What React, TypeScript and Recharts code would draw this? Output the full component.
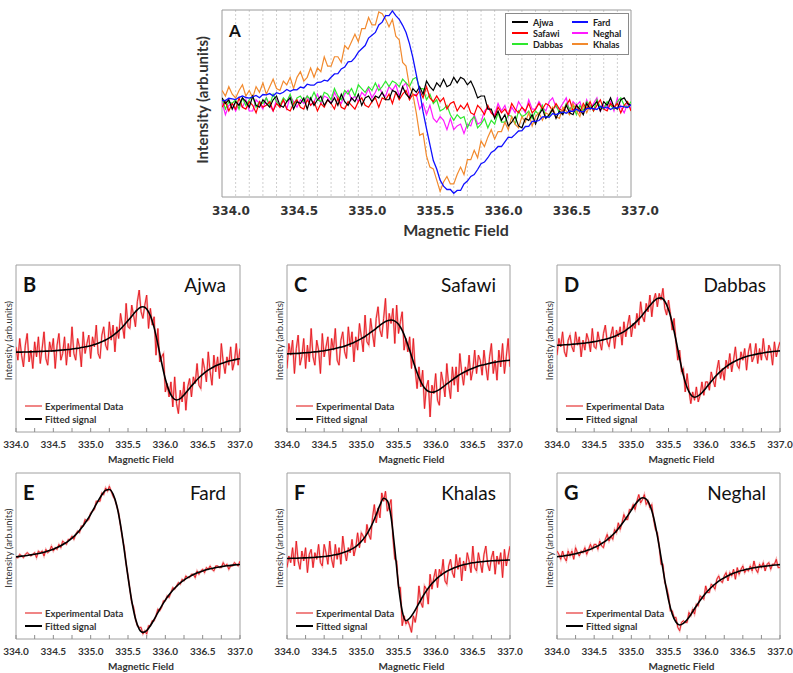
import { LineChart, Line, XAxis, YAxis, CartesianGrid, ReferenceArea, Legend } from 'recharts'

// magnetic field grids shared by every panel
const fieldFine = [
  334, 334.025, 334.05, 334.075, 334.1, 334.125, 334.15, 334.175, 334.2, 334.225,
  334.25, 334.275, 334.3, 334.325, 334.35, 334.375, 334.4, 334.425, 334.45, 334.475,
  334.5, 334.525, 334.55, 334.575, 334.6, 334.625, 334.65, 334.675, 334.7, 334.725,
  334.75, 334.775, 334.8, 334.825, 334.85, 334.875, 334.9, 334.925, 334.95, 334.975,
  335, 335.025, 335.05, 335.075, 335.1, 335.125, 335.15, 335.175, 335.2, 335.225,
  335.25, 335.275, 335.3, 335.325, 335.35, 335.375, 335.4, 335.425, 335.45, 335.475,
  335.5, 335.525, 335.55, 335.575, 335.6, 335.625, 335.65, 335.675, 335.7, 335.725,
  335.75, 335.775, 335.8, 335.825, 335.85, 335.875, 335.9, 335.925, 335.95, 335.975,
  336, 336.025, 336.05, 336.075, 336.1, 336.125, 336.15, 336.175, 336.2, 336.225,
  336.25, 336.275, 336.3, 336.325, 336.35, 336.375, 336.4, 336.425, 336.45, 336.475,
  336.5, 336.525, 336.55, 336.575, 336.6, 336.625, 336.65, 336.675, 336.7, 336.725,
  336.75, 336.775, 336.8, 336.825, 336.85, 336.875, 336.9, 336.925, 336.95, 336.975,
  337,
]
const fieldFit = [
  334, 334.05, 334.1, 334.15, 334.2, 334.25, 334.3, 334.35, 334.4, 334.45,
  334.5, 334.55, 334.6, 334.65, 334.7, 334.75, 334.8, 334.85, 334.9, 334.95,
  335, 335.05, 335.1, 335.15, 335.2, 335.25, 335.3, 335.35, 335.4, 335.45,
  335.5, 335.55, 335.6, 335.65, 335.7, 335.75, 335.8, 335.85, 335.9, 335.95,
  336, 336.05, 336.1, 336.15, 336.2, 336.25, 336.3, 336.35, 336.4, 336.45,
  336.5, 336.55, 336.6, 336.65, 336.7, 336.75, 336.8, 336.85, 336.9, 336.95,
  337,
]

const ticksA = [334, 334.5, 335, 335.5, 336, 336.5, 337]
const gridA = [
  334.1, 334.2, 334.3, 334.4, 334.5, 334.6, 334.7, 334.8, 334.9, 335,
  335.1, 335.2, 335.3, 335.4, 335.5, 335.6, 335.7, 335.8, 335.9, 336,
  336.1, 336.2, 336.3, 336.4, 336.5, 336.6, 336.7, 336.8, 336.9,
]
const ticksSmall = [334, 334.25, 334.5, 334.75, 335, 335.25, 335.5, 335.75, 336, 336.25, 336.5, 336.75, 337]

// panel A: raw spectra (arb. units, 0..100 of the frame height)
const ajwaA = [
  53, 50, 52, 47, 51, 49, 53, 51, 48, 54, 49, 48, 52, 50, 48, 52, 54, 49, 48, 51,
  53, 47, 51, 50, 53, 47, 53, 49, 52, 54, 49, 52, 50, 53, 49, 55, 51, 49, 53, 51,
  55, 49, 53, 54, 51, 54, 53, 56, 52, 52, 57, 56, 53, 59, 55, 53, 58, 56, 59, 55,
  62, 59, 57, 61, 59, 63, 59, 60, 64, 61, 64, 63, 60, 62, 58, 53, 54, 54, 47, 47, 42,
  46, 41, 44, 38, 40, 43, 38, 37, 42, 41, 44, 39, 44, 47, 42, 44, 47, 42, 46, 44,
  49, 45, 44, 49, 47, 44, 50, 47, 49, 51, 46, 51, 49, 53, 48, 47, 52, 53, 50, 49,
]
const safawiA = [
  48, 51, 46, 50, 47, 53, 48, 47, 51, 49, 45, 51, 48, 49, 51, 46, 50, 48, 52, 47,
  46, 50, 52, 48, 47, 52, 49, 51, 46, 50, 48, 52, 50, 47, 53, 48, 47, 51, 49, 47,
  51, 53, 49, 48, 51, 53, 48, 53, 52, 55, 50, 56, 52, 55, 57, 52, 55, 54, 57, 53,
  59, 53, 51, 54, 51, 53, 47, 50, 51, 46, 49, 47, 50, 45, 44, 49, 47, 44, 49, 45,
  43, 48, 45, 47, 44, 50, 47, 45, 48, 46, 50, 45, 47, 50, 47, 50, 49, 46, 50, 47,
  46, 49, 52, 46, 49, 45, 50, 47, 51, 46, 49, 52, 47, 46, 50, 48, 50, 45, 49, 51, 46,
]
const dabbasA = [
  53, 47, 51, 50, 52, 47, 53, 49, 52, 54, 48, 51, 50, 53, 49, 55, 51, 49, 53, 51,
  55, 49, 53, 54, 51, 54, 52, 56, 52, 51, 56, 55, 52, 58, 54, 52, 57, 55, 58, 54,
  60, 58, 56, 59, 57, 61, 57, 59, 62, 59, 62, 61, 59, 63, 61, 59, 63, 64, 58, 58, 52,
  55, 50, 52, 46, 47, 49, 44, 41, 44, 42, 43, 37, 41, 43, 37, 39, 42, 37, 41, 39,
  45, 40, 40, 44, 43, 39, 46, 43, 44, 46, 42, 46, 44, 49, 43, 43, 47, 49, 45, 45,
  50, 47, 49, 44, 49, 46, 51, 49, 46, 52, 48, 47, 51, 49, 47, 51, 53, 49, 48, 51,
]
const fardA = [
  51.5, 51.6, 52.8, 52.5, 52.1, 53.3, 54, 53.2, 52.9, 53.6, 54.3, 53.1, 54.8, 54.6, 55.3, 54.1, 55.8, 55.2, 56, 57.5,
  56.5, 57.4, 57.3, 58.8, 58.3, 60.3, 59.8, 59.8, 61.3, 61.4, 62.5, 62, 64, 65.8, 66, 68.5, 69.5, 72.3, 72.5, 74.5,
  77.5, 79.3, 81, 85, 86.5, 88, 92, 93.5, 97, 97, 99.5, 97, 95, 91.8, 88, 82, 74.5, 65.5, 56.5, 45.5, 36.5,
  28, 19.5, 15, 9, 5.8, 4, 4, 2, 3.5, 3.5, 7, 8.5, 11, 12, 14.7, 17.8, 18.7, 21, 23.8, 25,
  27, 27, 29.5, 32, 31.8, 33.5, 35.3, 35.5, 37.7, 37.8, 40.4, 40.5, 40.9, 42.8, 43, 42.6, 44.6, 44, 44.8, 45.5,
  44.8, 46, 45.8, 47, 45.8, 45.5, 47.3, 47.5, 47.2, 46.8, 48.5, 47.6, 48.2, 46.8, 47.9, 47.5, 48.6, 48.2, 47.8, 49.3,
]
const neghalA = [
  51, 44, 49, 50, 46, 50, 48, 52, 46, 46, 52, 50, 47, 53, 49, 46, 52, 48, 52, 47,
  54, 51, 48, 52, 50, 54, 49, 51, 55, 50, 54, 53, 50, 56, 52, 50, 55, 57, 52, 54, 51,
  56, 54, 58, 53, 56, 60, 55, 54, 59, 57, 60, 54, 59, 61, 54, 54, 55, 47, 50, 44,
  49, 42, 40, 43, 41, 36, 42, 36, 38, 39, 34, 39, 38, 44, 39, 40, 46, 48, 45, 44,
  50, 46, 49, 43, 48, 45, 51, 48, 45, 52, 47, 47, 51, 48, 46, 51, 53, 48, 47, 50,
  53, 46, 51, 49, 51, 45, 52, 47, 50, 53, 46, 49, 47, 51, 46, 53, 48, 45, 50, 47,
]
const khalasA = [
  57, 54, 59, 55, 53, 57, 60, 54, 57, 53, 59, 56, 61, 55, 59, 63, 58, 57, 62, 60,
  64, 58, 64, 67, 62, 64, 69, 64, 69, 67, 75, 70, 70, 75, 75, 72, 81, 79, 83, 87,
  83, 90, 90, 96, 92, 92, 99, 98, 95, 91, 95, 86, 84, 72, 70, 59, 55, 45, 33, 34,
  22, 16, 15, 9, 3, 8, 11, 7, 7, 12, 16, 12, 20, 20, 25, 21, 30, 27, 32, 36,
  31, 35, 35, 40, 36, 43, 39, 37, 43, 40, 45, 38, 43, 45, 41, 45, 44, 48, 43, 42,
  48, 46, 44, 50, 46, 43, 49, 45, 49,
]

// panels B-G: experimental data and fitted signal
const ajwaExp = [
  51, 43, 56, 46, 39, 52, 59, 42, 49, 38, 54, 45, 57, 41, 50, 60, 44, 40, 54, 48,
  56, 38, 52, 59, 43, 47, 57, 40, 53, 45, 63, 47, 43, 56, 51, 39, 60, 47, 53, 58,
  44, 57, 51, 64, 47, 44, 58, 63, 52, 49, 66, 55, 64, 48, 63, 56, 71, 64, 56, 77,
  63, 62, 76, 70, 63, 78, 85, 72, 68, 76, 82, 62, 74, 64, 69, 46, 62, 42, 45, 47,
  24, 29, 21, 30, 15, 33, 17, 11, 25, 18, 30, 13, 27, 32, 21, 33, 29, 41, 28, 26,
  44, 38, 30, 48, 36, 28, 46, 36, 45, 32, 53, 42, 35, 45, 40, 51, 37, 42, 53, 40, 50,
]
const ajwaFit = [
  47.8, 47.8, 47.9, 47.9, 48, 48.1, 48.2, 48.3, 48.4, 48.5, 48.6, 48.8, 49, 49.2, 49.4, 49.7, 50, 50.3, 50.7, 51.2,
  51.7, 52.4, 53.2, 54.1, 55.1, 56.4, 57.9, 59.7, 61.7, 64.1, 66.7, 69.3, 72, 74.2, 75, 73.7, 69.6, 62.5, 52.6, 41.6,
  31.7, 24.6, 20.5, 19.2, 20, 22.2, 24.9, 27.5, 30.1, 32.5, 34.5, 36.3, 37.8, 39.1, 40.1, 41, 41.8, 42.5, 43, 43.5, 43.9,
]
const safawiExp = [
  38, 53, 46, 55, 35, 50, 58, 40, 45, 56, 38, 52, 42, 62, 45, 40, 55, 49, 35, 59,
  45, 51, 57, 40, 56, 49, 62, 43, 40, 55, 60, 48, 44, 63, 51, 60, 42, 57, 49, 65,
  57, 48, 70, 54, 52, 68, 59, 51, 68, 75, 61, 57, 68, 80, 56, 71, 65, 74, 53, 76,
  59, 66, 72, 49, 56, 48, 57, 38, 56, 37, 26, 39, 27, 37, 14, 27, 31, 9, 28, 23,
  35, 19, 16, 36, 30, 21, 41, 28, 20, 39, 28, 39, 24, 47, 36, 28, 39, 34, 46, 31,
  37, 49, 35, 46, 43, 34, 49, 39, 31, 45, 53, 35, 43, 31, 49, 39, 53, 35, 45, 56, 39,
]
const safawiFit = [
  46.8, 46.9, 47, 47.1, 47.3, 47.5, 47.6, 47.9, 48.1, 48.4, 48.7, 49.1, 49.5, 50, 50.6, 51.1, 51.8, 52.7, 53.6, 54.7,
  55.9, 57.2, 58.8, 60.4, 62.1, 63.9, 65.5, 66.6, 67.1, 66.4, 64.5, 60.8, 55.4, 48.9, 42, 35.5, 30.1, 26.4, 24.4, 23.8,
  24.3, 25.4, 27, 28.8, 30.5, 32.1, 33.7, 35, 36.2, 37.3, 38.2, 39.1, 39.8, 40.3, 40.9, 41.4, 41.8, 42.2, 42.5, 42.8, 43,
]
const dabbasExp = [
  46, 56, 51, 60, 48, 45, 55, 58, 51, 48, 60, 52, 57, 45, 55, 49, 59, 55, 48, 62,
  51, 50, 60, 54, 49, 59, 64, 54, 51, 58, 63, 50, 61, 57, 63, 52, 66, 57, 64, 70,
  57, 65, 62, 71, 64, 78, 69, 66, 77, 72, 82, 69, 79, 83, 75, 83, 79, 86, 74, 70,
  79, 71, 61, 68, 54, 43, 49, 36, 38, 24, 35, 25, 17, 24, 19, 27, 18, 22, 30, 22, 30,
  30, 25, 36, 31, 27, 37, 43, 32, 38, 31, 43, 38, 47, 36, 43, 51, 40, 38, 48, 43,
  50, 37, 48, 53, 42, 45, 53, 41, 50, 43, 56, 46, 43, 52, 49, 40, 54, 45, 50, 54,
]
const dabbasFit = [
  51.9, 52, 52.2, 52.3, 52.5, 52.7, 52.9, 53.1, 53.4, 53.7, 54.1, 54.5, 55, 55.5, 56.1, 56.9, 57.8, 58.9, 60.1, 61.7,
  63.4, 65.3, 67.6, 70.1, 72.9, 75.7, 78.2, 79.9, 80.3, 78.3, 73.4, 65.4, 55.1, 43.9, 33.9, 26.6, 22.3, 20.8, 21.6, 23.5,
  26.1, 28.9, 31.6, 34.1, 36.3, 38.2, 39.9, 41.3, 42.5, 43.5, 44.4, 45.2, 45.8, 46.3, 46.8, 47.2, 47.6, 47.9, 48.2, 48.4, 48.6,
]
const fardExp = [
  49, 49, 51, 50, 49, 51, 52, 51, 50, 51, 52, 49, 53, 52, 53, 50, 54, 52, 53, 56,
  53, 55, 54, 57, 55, 59, 58, 57, 60, 60, 62, 60, 63, 65, 64, 68, 68, 72, 71, 72,
  76, 77, 78, 83, 83, 83, 88, 87, 91, 89, 92, 89, 86, 84, 80, 76, 68, 61, 55, 45, 38,
  30, 22, 19, 12, 8, 7, 7, 3, 5, 3, 8, 8, 11, 11, 14, 18, 17, 19, 23, 23,
  26, 25, 28, 31, 30, 32, 34, 33, 36, 35, 38, 37, 37, 39, 39, 37, 41, 39, 41, 42,
  40, 43, 42, 44, 42, 41, 44, 44, 43, 43, 46, 44, 45, 42, 44, 44, 46, 45, 44, 47,
]
const fardFit = [
  49.5, 49.8, 50, 50.3, 50.7, 51.1, 51.5, 52, 52.6, 53.3, 54.1, 55.1, 56.2, 57.5, 59, 60.8, 62.9, 65.4, 68.2, 71.5,
  75.1, 79.2, 83.2, 86.9, 89.6, 90.1, 87.3, 80.3, 68.7, 53.6, 37.4, 22.9, 12.2, 6, 4, 5.1, 8, 11.8, 15.9, 19.8,
  23.4, 26.6, 29.4, 31.7, 33.8, 35.5, 37, 38.2, 39.3, 40.2, 41, 41.7, 42.3, 42.8, 43.2, 43.6, 44, 44.2, 44.5, 44.7, 44.9,
]
const khalasExp = [
  43, 50, 46, 55, 44, 59, 47, 42, 53, 47, 55, 40, 51, 54, 43, 52, 48, 57, 46, 44,
  57, 52, 45, 59, 48, 43, 57, 48, 55, 45, 62, 53, 47, 55, 52, 60, 50, 55, 64, 55, 64,
  62, 58, 69, 63, 60, 73, 81, 70, 79, 73, 88, 83, 89, 77, 80, 84, 61, 48, 47, 31,
  31, 8, 14, 9, 11, 8, 4, 14, 10, 17, 32, 22, 19, 32, 30, 21, 39, 30, 37, 42,
  31, 42, 38, 48, 35, 33, 44, 48, 40, 37, 51, 42, 49, 35, 47, 41, 52, 47, 40, 56,
  43, 41, 52, 46, 40, 51, 56, 45, 41, 49, 53, 39, 50, 45, 52, 37, 54, 44, 50, 56,
]
const khalasFit = [
  48.5, 48.6, 48.6, 48.7, 48.8, 48.9, 49, 49.1, 49.3, 49.5, 49.7, 50, 50.3, 50.7, 51.2, 51.9, 52.7, 53.7, 54.9, 56.6,
  58.8, 61.5, 65.1, 69.6, 74.9, 80.6, 84.8, 83.3, 73.6, 54.3, 32.2, 16.8, 11, 12.5, 15.6, 19.5, 23.5, 27.3, 30.6, 33.4,
  35.8, 37.8, 39.4, 40.8, 41.9, 42.9, 43.7, 44.4, 45, 45.5, 45.9, 46.2, 46.5, 46.7, 46.9, 47.1, 47.2, 47.3, 47.4, 47.5, 47.6,
]
const neghalExp = [
  53, 51, 48, 53, 49, 47, 53, 50, 53, 48, 55, 52, 50, 53, 52, 55, 51, 54, 57, 54, 57,
  57, 54, 59, 56, 55, 60, 63, 59, 62, 60, 66, 64, 70, 66, 70, 75, 72, 72, 78, 78,
  81, 78, 83, 87, 82, 84, 87, 81, 83, 79, 81, 72, 66, 64, 56, 45, 45, 34, 31, 26,
  17, 17, 13, 13, 7, 5, 10, 11, 10, 10, 16, 14, 18, 15, 21, 20, 26, 25, 24, 32,
  28, 28, 33, 32, 30, 36, 38, 35, 34, 38, 40, 35, 40, 38, 42, 36, 43, 39, 42, 44,
  40, 42, 41, 44, 41, 47, 42, 40, 45, 43, 46, 41, 45, 46, 42, 45, 45, 48, 43, 43,
]
const neghalFit = [
  49.5, 49.8, 50.1, 50.5, 50.9, 51.4, 51.9, 52.5, 53.3, 54.1, 55.1, 56.1, 57.5, 58.9, 60.8, 62.8, 65.1, 67.9, 70.9, 74.2,
  77.6, 81, 83.7, 85.1, 84.3, 80.5, 73.2, 62.1, 49, 35.4, 23.6, 15.1, 10.2, 8.4, 9.4, 11.6, 14.7, 18.2, 21.6, 24.7,
  27.5, 30, 32.1, 34, 35.6, 36.9, 38.1, 39.2, 40, 40.8, 41.4, 42, 42.5, 42.9, 43.3, 43.6, 43.9, 44.1, 44.4, 44.6, 44.8,
]

const pts = (xs: number[], ys: number[]) => ys.map((v, i) => ({ x: xs[i], v }))

const seriesA = [
  { name: 'Ajwa', color: '#000000', values: ajwaA },
  { name: 'Safawi', color: '#ff0000', values: safawiA },
  { name: 'Dabbas', color: '#2ee82e', values: dabbasA },
  { name: 'Fard', color: '#1010ff', values: fardA },
  { name: 'Neghal', color: '#ff1aff', values: neghalA },
  { name: 'Khalas', color: '#f28a2e', values: khalasA },
]
const drawOrderA = ['Neghal', 'Dabbas', 'Safawi', 'Khalas', 'Ajwa', 'Fard']

const panels = [
  { letter: 'B', name: 'Ajwa', box: { l: 16, t: 265, r: 240, b: 432 }, exp: ajwaExp, fit: ajwaFit },
  { letter: 'C', name: 'Safawi', box: { l: 287, t: 265, r: 510, b: 432 }, exp: safawiExp, fit: safawiFit },
  { letter: 'D', name: 'Dabbas', box: { l: 557, t: 265, r: 780, b: 432 }, exp: dabbasExp, fit: dabbasFit },
  { letter: 'E', name: 'Fard', box: { l: 16, t: 473, r: 240, b: 639 }, exp: fardExp, fit: fardFit },
  { letter: 'F', name: 'Khalas', box: { l: 287, t: 473, r: 510, b: 639 }, exp: khalasExp, fit: khalasFit },
  { letter: 'G', name: 'Neghal', box: { l: 557, t: 473, r: 780, b: 639 }, exp: neghalExp, fit: neghalFit },
]

const FONT = 'Lato, "Open Sans", sans-serif'

const TickA = (props: any) => {
  const { x, y, payload } = props
  return (
    <text x={x + 9} y={y + 17.5} textAnchor="middle" fontFamily="DejaVu Sans" fontWeight="bold" fontSize={12} fill="#333">
      {Number(payload.value).toFixed(1)}
    </text>
  )
}

const TickSmall = (props: any) => {
  const { x, y, payload } = props
  const v = Number(payload.value)
  const major = Math.abs(v * 2 - Math.round(v * 2)) < 1e-6
  return (
    <g>
      <line x1={x} x2={x} y1={y} y2={y - 4} stroke="#8c8c8c" strokeWidth={1} />
      {major && (
        <text x={x} y={y + 15.5} textAnchor="middle" fontFamily={FONT} fontWeight="bold" fontSize={10} fill="#333">
          {v.toFixed(1)}
        </text>
      )}
    </g>
  )
}

const swatch = (color: string, thick: number, width: number) => (
  <span style={{ display: 'inline-block', width, height: thick, background: color, flex: 'none' }} />
)

function LegendA() {
  return (
    <div
      style={{
        width: 124, height: 42, boxSizing: 'border-box', border: '1px solid #8a8a8a', background: '#fff',
        position: 'relative', fontFamily: FONT, fontWeight: 700, fontSize: 9, color: '#222',
      }}
    >
      {seriesA.map((s, i) => (
        <div
          key={s.name}
          style={{ position: 'absolute', left: i < 3 ? 6 : 66, top: 2.5 + (i % 3) * 11, height: 11, display: 'flex', alignItems: 'center' }}
        >
          {swatch(s.color, 2, 16)}
          <span style={{ marginLeft: 5, lineHeight: '11px' }}>{s.name}</span>
        </div>
      ))}
    </div>
  )
}

function FitLegend() {
  const row = { position: 'absolute' as const, left: 0, height: 12, display: 'flex', alignItems: 'center', whiteSpace: 'nowrap' as const }
  return (
    <div style={{ position: 'relative', width: 140, height: 26, fontFamily: FONT, fontWeight: 700, fontSize: 9.5, color: '#333' }}>
      <div style={{ ...row, top: 0 }}>
        {swatch('#f08585', 2, 17)}
        <span style={{ marginLeft: 3 }}>Experimental Data</span>
      </div>
      <div style={{ ...row, top: 13 }}>
        {swatch('#000', 2, 17)}
        <span style={{ marginLeft: 3 }}>Fitted signal</span>
      </div>
    </div>
  )
}

function OverviewPanel() {
  const left = 180
  return (
    <>
      <div style={{ position: 'absolute', left, top: 0 }}>
        <LineChart width={491} height={245} margin={{ top: 10, right: 40, bottom: 0, left: 0 }}>
          <CartesianGrid horizontal={false} verticalValues={gridA} stroke="#cfcfcf" strokeDasharray="2 2" />
          <XAxis
            dataKey="x" type="number" domain={[334, 337]} ticks={ticksA} interval={0} height={48}
            tickSize={0} tickMargin={0} axisLine={false} tickLine={false} tick={TickA} allowDataOverflow
            label={{
              content: () => (
                <text x={276} y={235.5} textAnchor="middle" fontFamily={FONT} fontWeight="bold" fontSize={16} fill="#333">
                  Magnetic Field
                </text>
              ),
            }}
          />
          <YAxis
            type="number" domain={[0, 100]} width={42} tick={false} tickLine={false} axisLine={false} allowDataOverflow
            label={{
              content: () => (
                <text x={21.5} y={100} transform="rotate(-90 21.5 100)" textAnchor="middle" dominantBaseline="central"
                  fontFamily={FONT} fontWeight="bold" fontSize={15} fill="#333">
                  Intensity (arb.units)
                </text>
              ),
            }}
          />
          <ReferenceArea x1={334} x2={337} y1={0} y2={100} fill="none" stroke="#9a9a9a" strokeWidth={1} />
          {drawOrderA.map((n) => {
            const s = seriesA.find((e) => e.name === n)!
            return (
              <Line key={n} name={n} data={pts(fieldFine, s.values)} dataKey="v" type="linear" stroke={s.color}
                strokeWidth={n === 'Fard' ? 1.3 : 1.2} dot={false} isAnimationActive={false} />
            )
          })}
          <Legend layout="horizontal" verticalAlign="middle" align="center" content={() => <LegendA />}
            wrapperStyle={{ left: 505 - left, top: 13, width: 124, height: 42 }} />
        </LineChart>
      </div>
      <div style={{ position: 'absolute', left: 229, top: 22, fontFamily: FONT, fontWeight: 700, fontSize: 17, lineHeight: '17px', color: '#111' }}>
        A
      </div>
    </>
  )
}

type PanelProps = {
  letter: string
  name: string
  box: { l: number; t: number; r: number; b: number }
  exp: number[]
  fit: number[]
}

function SpectrumPanel({ letter, name, box, exp, fit }: PanelProps) {
  const w = box.r - box.l
  const h = box.b - box.t
  const padL = 16
  const padT = 2
  const padR = 16
  const axisH = 36
  const yMid = padT + h / 2 - 8
  return (
    <>
      <div style={{ position: 'absolute', left: box.l - padL, top: box.t - padT }}>
        <LineChart width={padL + w + padR} height={padT + h + axisH} margin={{ top: padT, right: padR, bottom: 0, left: 0 }}>
          <XAxis
            dataKey="x" type="number" domain={[334, 337]} ticks={ticksSmall} interval={0} height={axisH}
            tickSize={0} tickMargin={0} axisLine={false} tickLine={false} tick={TickSmall} allowDataOverflow
            label={{
              content: () => (
                <text x={padL + w / 2 + 13} y={padT + h + 30.6} textAnchor="middle" fontFamily={FONT} fontWeight="bold" fontSize={10} fill="#333">
                  Magnetic Field
                </text>
              ),
            }}
          />
          <YAxis
            type="number" domain={[0, 100]} width={padL} tick={false} tickLine={false} axisLine={false} allowDataOverflow
            label={{
              content: () => (
                <text x={8} y={yMid} transform={`rotate(-90 8 ${yMid})`} textAnchor="middle" dominantBaseline="central"
                  fontFamily={FONT} fontSize={9.5} fill="#333">
                  Intensity (arb.units)
                </text>
              ),
            }}
          />
          <ReferenceArea x1={334} x2={337} y1={0} y2={100} fill="none" stroke="#a0a0a0" strokeWidth={1} />
          <Line data={pts(fieldFine, exp)} dataKey="v" type="linear" stroke="#f5b3b3" strokeWidth={2} dot={false} isAnimationActive={false} />
          <Line data={pts(fieldFine, exp)} dataKey="v" type="linear" stroke="#e8141c" strokeWidth={0.9} dot={false} isAnimationActive={false} />
          <Line data={pts(fieldFit, fit)} dataKey="v" type="monotone" stroke="#000" strokeWidth={1.6} dot={false} isAnimationActive={false} />
          <Legend layout="horizontal" verticalAlign="middle" align="center" content={() => <FitLegend />}
            wrapperStyle={{ left: padL + 9, top: padT + h - 32, width: 140, height: 26 }} />
        </LineChart>
      </div>
      <div style={{ position: 'absolute', left: box.l + 7, top: box.t + 9, fontFamily: FONT, fontWeight: 700, fontSize: 20, lineHeight: '20px', color: '#111' }}>
        {letter}
      </div>
      <div style={{ position: 'absolute', left: box.r - 14 - 120, width: 120, textAlign: 'right', top: box.t + 10, fontFamily: FONT, fontSize: 19, lineHeight: '19px', color: '#111' }}>
        {name}
      </div>
    </>
  )
}

export default function App() {
  return (
    <div style={{ position: 'absolute', left: 0, top: 0, width: 793, height: 673, background: '#fff', overflow: 'hidden' }}>
      <OverviewPanel />
      {panels.map((p) => (
        <SpectrumPanel key={p.letter} {...p} />
      ))}
    </div>
  )
}
